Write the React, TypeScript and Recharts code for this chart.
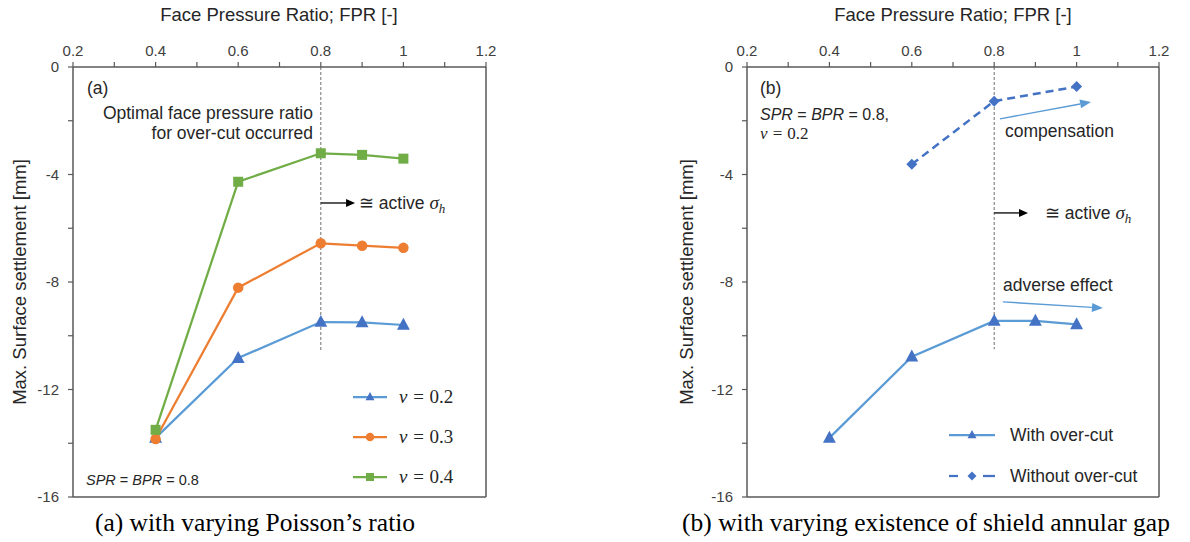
import React from 'react';
import { LineChart, Line, XAxis, YAxis, ReferenceLine, Customized } from 'recharts';

// ---------- data ----------
const fprLevels = [0.4, 0.6, 0.8, 0.9, 1.0];
const settlementNu02 = [-13.8, -10.83, -9.49, -9.5, -9.6];
const settlementNu03 = [-13.84, -8.21, -6.56, -6.65, -6.73];
const settlementNu04 = [-13.5, -4.27, -3.21, -3.27, -3.41];
const settlementWithOverCut = [-13.8, -10.78, -9.45, -9.45, -9.58];
const fprWithoutOverCut = [0.6, 0.8, 1.0];
const settlementWithoutOverCut = [-3.62, -1.27, -0.73];

const xTicks = [0.2, 0.3, 0.4, 0.5, 0.6, 0.7, 0.8, 0.9, 1.0, 1.1, 1.2];
const xTickLabels = ['0.2', '', '0.4', '', '0.6', '', '0.8', '', '1', '', '1.2'];
const yTicks = [0, -2, -4, -6, -8, -10, -12, -14, -16];
const yTickLabels = ['0', '', '-4', '', '-8', '', '-12', '', '-16'];

const legendA = ['0.2', '0.3', '0.4'];
const legendB = ['With over-cut', 'Without over-cut'];

const toRows = (xs: number[], ys: number[]) => xs.map((x, i) => ({ x, y: ys[i] }));
const rowsNu02 = toRows(fprLevels, settlementNu02);
const rowsNu03 = toRows(fprLevels, settlementNu03);
const rowsNu04 = toRows(fprLevels, settlementNu04);
const rowsWith = toRows(fprLevels, settlementWithOverCut);
const rowsWithout = toRows(fprWithoutOverCut, settlementWithoutOverCut);

// ---------- styles ----------
const SANS = '"Liberation Sans", Arial, sans-serif';
const SERIF = '"Liberation Serif", "Times New Roman", serif';
const AXIS = '#595959';
const TICKTXT = '#404040';
const TXT = '#262626';
const BLUE_LINE = '#5B9BD5';
const BLUE_MARK = '#4472C4';
const ORANGE = '#ED7D31';
const GREEN = '#70AD47';

const W = 595;
const H = 542;

const fmtX = (v: number) => {
  const i = xTicks.findIndex((t) => Math.abs(t - v) < 1e-6);
  return i >= 0 ? xTickLabels[i] : '';
};
const fmtY = (v: number) => {
  const i = yTicks.findIndex((t) => Math.abs(t - v) < 1e-6);
  return i >= 0 ? yTickLabels[i] : '';
};

// ---------- marker shapes ----------
const Tri = ({ cx, cy, s, fill }: any) => (
  <polygon points={`${cx},${cy - s * 0.62} ${cx - s * 0.56},${cy + s * 0.42} ${cx + s * 0.56},${cy + s * 0.42}`} fill={fill} />
);
const Sq = ({ cx, cy, s, fill }: any) => <rect x={cx - s / 2} y={cy - s / 2} width={s} height={s} fill={fill} />;
const Circ = ({ cx, cy, s, fill }: any) => <circle cx={cx} cy={cy} r={s / 2} fill={fill} />;
const Dia = ({ cx, cy, s, fill }: any) => (
  <polygon points={`${cx},${cy - s / 2} ${cx + s / 2},${cy} ${cx},${cy + s / 2} ${cx - s / 2},${cy}`} fill={fill} />
);

const dotOf = (Shape: any, s: number, fill: string) => (p: any) => {
  const { cx, cy, index } = p;
  if (cx == null || cy == null) return <g key={`d${index}`} />;
  return (
    <g key={`d${index}`}>
      <Shape cx={cx} cy={cy} s={s} fill={fill} />
    </g>
  );
};

// ---------- arrow shape for ReferenceLine ----------
const arrowShape = (color: string, width: number, headLen: number, headWidth: number) => (p: any) => {
  const { x1, y1, x2, y2 } = p;
  const ang = Math.atan2(y2 - y1, x2 - x1);
  const bx = x2 - headLen * Math.cos(ang);
  const by = y2 - headLen * Math.sin(ang);
  const nx = (-Math.sin(ang) * headWidth) / 2;
  const ny = (Math.cos(ang) * headWidth) / 2;
  return (
    <g>
      <line x1={x1} y1={y1} x2={bx} y2={by} stroke={color} strokeWidth={width} />
      <polygon points={`${x2},${y2} ${bx + nx},${by + ny} ${bx - nx},${by - ny}`} fill={color} />
    </g>
  );
};

const ActiveText = ({ x, y }: { x: number; y: number }) => (
  <text x={x} y={y} fontFamily={SANS} fontSize={17.5} fill={TXT}>
    ≅ active{' '}
    <tspan fontFamily={SERIF} fontStyle="italic" fontSize={19}>σ</tspan>
    <tspan fontFamily={SERIF} fontStyle="italic" fontSize={13} dy={4}>h</tspan>
  </text>
);

const NuText = ({ x, y, value, size }: { x: number; y: number; value: string; size: number }) => (
  <text x={x} y={y} fontFamily={SERIF} fontSize={size} fill={TXT}>
    <tspan fontStyle="italic">ν</tspan>
    <tspan dx={size * 0.3}>=</tspan>
    <tspan dx={size * 0.3}>{value}</tspan>
  </text>
);

// ---------- annotations ----------
const AnnotA = () => {
  const legendShapes = [Tri, Circ, Sq];
  const legendLine = [BLUE_LINE, ORANGE, GREEN];
  const legendMark = [BLUE_MARK, ORANGE, GREEN];
  const legendY = [397, 437, 477];
  return (
    <g>
      <text x={279} y={21} textAnchor="middle" fontFamily={SANS} fontSize={18.5} fill={TXT}>
        Face Pressure Ratio; FPR [-]
      </text>
      <text
        x={0}
        y={0}
        transform={`translate(26, 282) rotate(-90)`}
        textAnchor="middle"
        fontFamily={SANS}
        fontSize={18.5}
        fill={TXT}
      >
        Max. Surface settlement [mm]
      </text>
      <text x={87} y={94} fontFamily={SANS} fontSize={17.5} fill={TXT}>(a)</text>
      <text x={313} y={119} textAnchor="end" fontFamily={SANS} fontSize={17.5} fill={TXT}>
        Optimal face pressure ratio
      </text>
      <text x={313} y={139} textAnchor="end" fontFamily={SANS} fontSize={17.5} fill={TXT}>
        for over-cut occurred
      </text>
      <ActiveText x={359} y={209} />
      <text x={86} y={485} fontFamily={SANS} fontSize={14.5} fill={TXT}>
        <tspan fontStyle="italic">SPR</tspan> = <tspan fontStyle="italic">BPR</tspan> = 0.8
      </text>
      {legendA.map((lab, i) => {
        const S = legendShapes[i];
        return (
          <g key={lab}>
            <line x1={353} x2={387} y1={legendY[i]} y2={legendY[i]} stroke={legendLine[i]} strokeWidth={2.25} />
            <S cx={370} cy={legendY[i]} s={i === 1 ? 8.5 : 8} fill={legendMark[i]} />
            <NuText x={399} y={legendY[i] + 6} value={lab} size={19} />
          </g>
        );
      })}
      <text x={255} y={531} textAnchor="middle" fontFamily={SERIF} fontSize={25.5} fill="#000">
        (a) with varying Poisson’s ratio
      </text>
    </g>
  );
};

const AnnotB = () => {
  const legendY = [435, 476];
  return (
    <g>
      <text x={358} y={21} textAnchor="middle" fontFamily={SANS} fontSize={18.5} fill={TXT}>
        Face Pressure Ratio; FPR [-]
      </text>
      <text
        x={0}
        y={0}
        transform={`translate(98, 282) rotate(-90)`}
        textAnchor="middle"
        fontFamily={SANS}
        fontSize={18.5}
        fill={TXT}
      >
        Max. Surface settlement [mm]
      </text>
      <text x={165} y={94} fontFamily={SANS} fontSize={17.5} fill={TXT}>(b)</text>
      <text x={165} y={120} fontFamily={SANS} fontSize={16} fill={TXT}>
        <tspan fontStyle="italic">SPR</tspan> = <tspan fontStyle="italic">BPR</tspan> = 0.8,
      </text>
      <NuText x={165} y={139} value="0.2" size={17} />
      <text x={410} y={137} fontFamily={SANS} fontSize={17.5} fill={TXT}>compensation</text>
      <text x={408} y={291} fontFamily={SANS} fontSize={17.5} fill={TXT}>adverse effect</text>
      <ActiveText x={450} y={219} />
      {/* legend */}
      <g>
        <line x1={354} x2={400} y1={legendY[0]} y2={legendY[0]} stroke={BLUE_LINE} strokeWidth={2.25} />
        <Tri cx={377} cy={legendY[0]} s={8} fill={BLUE_MARK} />
        <text x={415} y={legendY[0] + 6} fontFamily={SANS} fontSize={17.5} fill={TXT}>{legendB[0]}</text>
      </g>
      <g>
        <line x1={354} x2={363} y1={legendY[1]} y2={legendY[1]} stroke={BLUE_MARK} strokeWidth={2.25} />
        <Dia cx={377} cy={legendY[1]} s={9} fill={BLUE_MARK} />
        <line x1={388} x2={400} y1={legendY[1]} y2={legendY[1]} stroke={BLUE_MARK} strokeWidth={2.25} />
        <text x={415} y={legendY[1] + 6} fontFamily={SANS} fontSize={17.5} fill={TXT}>{legendB[1]}</text>
      </g>
      <text x={331} y={531} textAnchor="middle" fontFamily={SERIF} fontSize={25.5} fill="#000">
        (b) with varying existence of shield annular gap
      </text>
    </g>
  );
};

const xAxisProps = {
  dataKey: 'x',
  type: 'number' as const,
  orientation: 'top' as const,
  domain: [0.2, 1.2],
  ticks: xTicks,
  tickFormatter: fmtX,
  interval: 0 as const,
  allowDataOverflow: true,
  height: 30,
  tickSize: 5,
  tickMargin: 6,
  stroke: AXIS,
  strokeWidth: 1.5,
  fontSize: 15,
  fontFamily: SANS,
  tick: { fill: TICKTXT, fontSize: 15, fontFamily: SANS },
  tickLine: { stroke: AXIS, strokeWidth: 1.2 },
};

const yAxisProps = {
  dataKey: 'y',
  type: 'number' as const,
  domain: [-16, 0],
  ticks: yTicks,
  tickFormatter: fmtY,
  interval: 0 as const,
  allowDataOverflow: true,
  width: 30,
  tickSize: 5,
  tickMargin: 9,
  stroke: AXIS,
  strokeWidth: 1.5,
  fontSize: 15,
  fontFamily: SANS,
  tick: { fill: TICKTXT, fontSize: 15, fontFamily: SANS },
  tickLine: { stroke: AXIS, strokeWidth: 1.2 },
};

const Frame = () => [
  <ReferenceLine key="fr" x={1.2} stroke={AXIS} strokeWidth={1.5} ifOverflow="visible" />,
  <ReferenceLine key="fb" y={-16} stroke={AXIS} strokeWidth={1.5} ifOverflow="visible" />,
];

export default function App() {
  return (
    <div style={{ position: 'absolute', left: 0, top: 0, width: 1190, height: 542, background: '#fff' }}>
      <div style={{ position: 'absolute', left: 0, top: 0 }}>
        <LineChart width={W} height={H} margin={{ top: 37, right: 109, bottom: 45, left: 43 }}>
          <XAxis {...xAxisProps} />
          <YAxis {...yAxisProps} />
          {Frame()}
          <ReferenceLine
            segment={[{ x: 0.8, y: 0 }, { x: 0.8, y: -10.6 }]}
            stroke="#6F6F6F"
            strokeWidth={1}
            strokeDasharray="3 2"
          />
          <ReferenceLine
            segment={[{ x: 0.8, y: -5.06 }, { x: 0.883, y: -5.06 }]}
            shape={arrowShape('#000', 1.3, 9, 8)}
          />
          <Line data={rowsNu02} dataKey="y" stroke={BLUE_LINE} strokeWidth={2.25} dot={dotOf(Tri, 11.5, BLUE_MARK)} isAnimationActive={false} />
          <Line data={rowsNu03} dataKey="y" stroke={ORANGE} strokeWidth={2.25} dot={dotOf(Circ, 10.5, ORANGE)} isAnimationActive={false} />
          <Line data={rowsNu04} dataKey="y" stroke={GREEN} strokeWidth={2.25} dot={dotOf(Sq, 10, GREEN)} isAnimationActive={false} />
          <Customized component={AnnotA} />
        </LineChart>
      </div>
      <div style={{ position: 'absolute', left: W, top: 0 }}>
        <LineChart width={W} height={H} margin={{ top: 37, right: 31, bottom: 45, left: 122 }}>
          <XAxis {...xAxisProps} />
          <YAxis {...yAxisProps} />
          {Frame()}
          <ReferenceLine
            segment={[{ x: 0.8, y: 0 }, { x: 0.8, y: -10.5 }]}
            stroke="#6F6F6F"
            strokeWidth={1}
            strokeDasharray="3 2"
          />
          <ReferenceLine
            segment={[{ x: 0.8, y: -5.43 }, { x: 0.882, y: -5.43 }]}
            shape={arrowShape('#000', 1.3, 9, 8)}
          />
          <ReferenceLine
            segment={[{ x: 0.814, y: -1.93 }, { x: 1.035, y: -1.3 }]}
            shape={arrowShape(BLUE_LINE, 1.4, 11, 9)}
          />
          <ReferenceLine
            segment={[{ x: 0.821, y: -8.74 }, { x: 1.064, y: -8.97 }]}
            shape={arrowShape(BLUE_LINE, 1.4, 11, 9)}
          />
          <Line data={rowsWith} dataKey="y" stroke={BLUE_LINE} strokeWidth={2.25} dot={dotOf(Tri, 11.5, BLUE_MARK)} isAnimationActive={false} />
          <Line
            data={rowsWithout}
            dataKey="y"
            stroke={BLUE_MARK}
            strokeWidth={2.5}
            strokeDasharray="8 5"
            dot={dotOf(Dia, 11, BLUE_MARK)}
            isAnimationActive={false}
          />
          <Customized component={AnnotB} />
        </LineChart>
      </div>
    </div>
  );
}
